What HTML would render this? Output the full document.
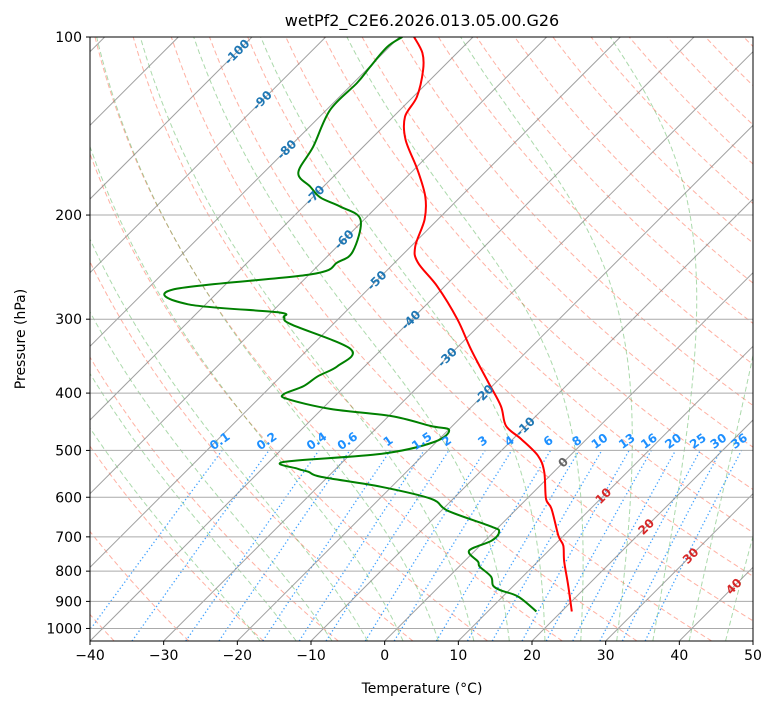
<!DOCTYPE html>
<html><head><meta charset="utf-8"><style>
body{margin:0;background:#fff;}
svg{display:block;font-family:"DejaVu Sans","Liberation Sans",sans-serif;}
</style></head><body>
<svg id="chart" width="775" height="708" viewBox="0 0 775 708" xmlns="http://www.w3.org/2000/svg">
<defs><clipPath id="clip"><rect x="90" y="37" width="663" height="604"/></clipPath></defs>
<rect width="775" height="708" fill="#fff"/>
<g id="bg" clip-path="url(#clip)"></g>
<g id="series" clip-path="url(#clip)"></g>
<g id="labels"></g>
<rect x="90" y="37" width="663" height="604" fill="none" stroke="#000" stroke-width="1"/>
<g id="axes"></g>
<text x="422" y="26" text-anchor="middle" font-size="16">wetPf2_C2E6.2026.013.05.00.G26</text>
<text x="422" y="693" text-anchor="middle" font-size="14">Temperature (°C)</text>
<text x="25" y="339" text-anchor="middle" font-size="14" transform="rotate(-90 25 339)">Pressure (hPa)</text>
</svg>
<script>
const tempP=[100,106.4,113.7,126.2,136.4,149.2,167.7,186.2,203.5,226.1,240.5,264,300.1,337.2,383.2,420.8,454.7,478.3,510.8,543.5,603.6,627.5,697,724.4,770.9,846.4,936.1];
const tempT=[-78.0,-74.7,-72.3,-69.5,-68.4,-65.2,-59.5,-54.8,-51.8,-49.4,-46.9,-41.0,-33.8,-27.9,-21.1,-16.1,-12.7,-8.9,-4.3,-1.3,2.6,4.7,9.3,11.3,13.6,17.4,21.4];
const dewP=[100,104,112.4,119.6,132.8,153.3,169.6,179,186.9,193.5,203.5,230.5,240.5,252,267.1,283.1,292.1,297.8,306,337.2,360.1,374.5,389.3,401.6,409.5,425.6,437.3,454.7,461.8,483.9,506.8,522.8,537.2,543.5,554.2,576.1,603.6,632.4,673,686.2,710.6,738.8,770.9,786,817.2,846.4,862.9,883.2,936.1];
const dewT=[-79.6,-80.3,-79.9,-79.5,-79.5,-76.8,-75.3,-71.8,-68.9,-65.0,-60.5,-57.2,-57.8,-59.8,-76.4,-72.4,-59.1,-57.6,-55.7,-44.2,-43.7,-45.0,-45.6,-47.2,-46.0,-38.8,-29.7,-22.9,-19.9,-20.3,-25.9,-38.0,-35.1,-33.3,-30.9,-21.4,-13.0,-9.1,-1.0,0.7,0.9,-0.8,1.9,2.8,5.7,7.2,9.0,12.1,16.6];
const xTicks=[-40,-30,-20,-10,0,10,20,30,40,50];
const pTicks=[100,200,300,400,500,600,700,800,900,1000];
const mixRatios=[0.1,0.2,0.4,0.6,1,1.5,2,3,4,6,8,10,13,16,20,25,30,36];
const isoLabelT=[-100,-90,-80,-70,-60,-50,-40,-30,-20,-10,0,10,20,30,40];
const isoLabelP=[106,128,155,185,220,258,301,348,402,456,524,597,673,754,849];

const NS='http://www.w3.org/2000/svg';
const X0=90,X1=753,Y0=37,Y1=641,PB=1050;
const yS=p=>Y0+(Y1-Y0)*Math.log10(p/100)/Math.log10(PB/100);
const xS=T=>X0+(T+40)*(X1-X0)/90;
const sk=(T,p)=>{const y=yS(p);return [xS(T)+(Y1-y),y];};
function mk(parent,tag,attrs){const e=document.createElementNS(NS,tag);for(const k in attrs)e.setAttribute(k,attrs[k]);parent.appendChild(e);return e;}
const bg=document.getElementById('bg'),ser=document.getElementById('series'),lab=document.getElementById('labels'),ax=document.getElementById('axes');
function pathFrom(pts){return pts.map((q,i)=>(i?'L':'M')+q[0].toFixed(1)+' '+q[1].toFixed(1)).join('');}
function smooth(pts){
 let d='M'+pts[0][0].toFixed(1)+' '+pts[0][1].toFixed(1);
 for(let i=0;i<pts.length-1;i++){
  const p0=pts[Math.max(0,i-1)],p1=pts[i],p2=pts[i+1],p3=pts[Math.min(pts.length-1,i+2)];
  const c1=[p1[0]+(p2[0]-p0[0])/6,p1[1]+(p2[1]-p0[1])/6],c2=[p2[0]-(p3[0]-p1[0])/6,p2[1]-(p3[1]-p1[1])/6];
  d+='C'+c1[0].toFixed(1)+' '+c1[1].toFixed(1)+' '+c2[0].toFixed(1)+' '+c2[1].toFixed(1)+' '+p2[0].toFixed(1)+' '+p2[1].toFixed(1);
 }
 return d;
}
const levs=[];for(let p=PB;p>=100;p-=5)levs.push(p);
for(let th=-40;th<=200;th+=10){
 const pts=levs.map(p=>sk((th+273.15)*Math.pow(p/1000,0.2857)-273.15,p));
 const e=mk(bg,'path',{d:pathFrom(pts),fill:'none',stroke:'#ff6347','stroke-opacity':0.5,'stroke-width':1,'stroke-dasharray':'5 3'});
 
 
}
function es(T){return 6.112*Math.exp(17.67*T/(T+243.5));}
function moist(T0){
 const Rd=287.04,Cp=1005.7,Lv=2.501e6,eps=0.622;
 const f=(p,Tk)=>{const rs=eps*es(Tk-273.15)/(p-es(Tk-273.15));return (Rd*Tk+Lv*rs)/(p*(Cp+Lv*Lv*rs*eps/(Rd*Tk*Tk)));};
 const up=[],dn=[];let T=T0+273.15;
 for(let p=1000;p>=100;p-=2){up.push([p,T]);T-=2*f(p,T);}
 T=T0+273.15;for(let p=1000;p<=PB;p+=2){dn.push([p,T]);T+=2*f(p,T);}
 return dn.reverse().concat(up).map(a=>sk(a[1]-273.15,a[0]));
}
for(let t=-20;t<=45;t+=5){
 const e=mk(bg,'path',{d:pathFrom(moist(t)),fill:'none',stroke:'#2ca02c','stroke-opacity':0.4,'stroke-width':1,'stroke-dasharray':'5 3'});
 
 
}
mixRatios.forEach(w=>{
 const Tw=p=>{const e=p*w/1000/(0.622+w/1000);const l=Math.log(e/6.112);return 243.5*l/(17.67-l);};
 const pts=[];for(let p=PB;p>=500;p-=5)pts.push(sk(Tw(p),p));
 const e=mk(bg,'path',{d:pathFrom(pts),fill:'none',stroke:'#1e90ff','stroke-opacity':0.85,'stroke-width':1.3,'stroke-dasharray':'1.3 2.5'});
 
 
 const q=sk(Tw(500),500);
 const t=mk(lab,'text',{x:q[0],y:q[1]-6,'text-anchor':'middle','font-size':12,'font-weight':'bold',fill:'#1e90ff',transform:`rotate(-35 ${q[0]} ${q[1]-6})`});
 t.textContent=String(w);
 
 
});
for(let T=-130;T<=50;T+=10){
 const a=sk(T,PB),b=sk(T,100);
 const e=mk(bg,'line',{x1:a[0],y1:a[1],x2:b[0],y2:b[1],stroke:'#888','stroke-width':1,'stroke-opacity':0.8});
 
 
}
pTicks.forEach(p=>{
 const y=yS(p);
 const e=mk(bg,'line',{x1:X0,x2:X1,y1:y,y2:y,stroke:'#aaa','stroke-width':1});
 
 
});
isoLabelT.forEach((T,i)=>{
 const q=sk(T,isoLabelP[i]);
 const col=T<0?'#1f77b4':(T===0?'#666':'#d62728');
 const t=mk(lab,'text',{x:q[0],y:q[1]+4,'text-anchor':'middle','font-size':12,'font-weight':'bold',fill:col,transform:`rotate(-45 ${q[0]} ${q[1]})`});
 t.textContent=String(T);
 
 
});
const tp=mk(ser,'path',{d:smooth(tempP.map((p,i)=>sk(tempT[i],p))),fill:'none',stroke:'#ff0000','stroke-width':2});


const dp=mk(ser,'path',{d:smooth(dewP.map((p,i)=>sk(dewT[i],p))),fill:'none',stroke:'#008000','stroke-width':2});


xTicks.forEach(T=>{
 const x=xS(T);
 const l=mk(ax,'line',{x1:x,x2:x,y1:Y1,y2:Y1+4,stroke:'#000'});
 
 
 const t=mk(ax,'text',{x:x,y:Y1+19,'text-anchor':'middle','font-size':14});
 t.textContent=(T<0?'\u2212':'')+Math.abs(T);
 
 
});
pTicks.forEach(p=>{
 const y=yS(p);
 const l=mk(ax,'line',{x1:X0-4,x2:X0,y1:y,y2:y,stroke:'#000'});
 
 
 const t=mk(ax,'text',{x:X0-8,y:y+5,'text-anchor':'end','font-size':14});
 t.textContent=String(p);
 
 
});
</script>
</body></html>
